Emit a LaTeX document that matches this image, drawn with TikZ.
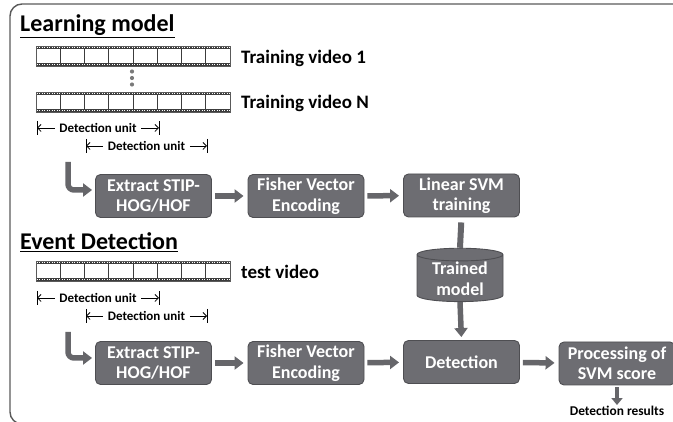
\documentclass[tikz,border=0pt]{standalone}
\usepackage{fontspec}
\setmainfont{Carlito}
\usetikzlibrary{arrows.meta,shapes.geometric}

\definecolor{boxgray}{HTML}{6D6D72}
\definecolor{boxedge}{HTML}{4E4E52}
\definecolor{arrowgray}{HTML}{66666A}
\definecolor{framegray}{HTML}{5A5A5A}
\definecolor{bandgray}{HTML}{3C3C3C}
\definecolor{dotgray}{HTML}{7A7A7A}

\tikzset{
  stage/.style={rectangle, rounded corners=5pt, fill=boxgray, draw=boxedge,
    line width=0.9pt, text=white, font=\bfseries\fontsize{18}{20.5}\selectfont,
    minimum width=116pt, minimum height=43pt, align=center, inner sep=2pt},
  store/.style={cylinder, shape border rotate=90, aspect=0.22, fill=boxgray,
    draw=boxedge, line width=0.9pt, text=white, align=center,
    font=\bfseries\fontsize{18}{20.5}\selectfont,
    minimum width=86pt, minimum height=47pt, inner sep=1pt},
  flow/.style={draw=arrowgray, line width=5.5pt,
    -{Triangle[width=13pt,length=9pt]}},
  flowbar/.style={draw=arrowgray, line width=6pt},
  smallflow/.style={draw=arrowgray, line width=4.5pt,
    -{Triangle[width=11pt,length=7pt]}},
  heading/.style={font=\bfseries\fontsize{24}{27}\selectfont, inner sep=0pt,
    anchor=base west},
  vidlabel/.style={font=\bfseries\fontsize{19}{21}\selectfont, inner sep=0pt,
    anchor=west},
  unitlabel/.style={font=\bfseries\fontsize{13}{15}\selectfont, inner sep=1pt},
  unitarrow/.style={draw=black, line width=0.8pt, shorten <=3.5pt,
    -{Straight Barb[length=3.5pt,width=7pt]}},
  unitbar/.style={draw=black, line width=1pt},
  film/.pic={
    \fill[white] (0,0) rectangle (194,20);
    \fill[bandgray] (0,0) rectangle (194,3.4);
    \fill[bandgray] (0,16.6) rectangle (194,20);
    \draw[white, line width=1.1pt, dash pattern=on 1.2pt off 1.3pt] (0.6,1.7) -- (194,1.7);
    \draw[white, line width=1.1pt, dash pattern=on 1.2pt off 1.3pt] (0.6,18.3) -- (194,18.3);
    \foreach \i in {1,...,7} \draw[bandgray, line width=0.9pt] (\i*24.25,3.4) -- (\i*24.25,16.6);
    \draw[framegray, line width=0.6pt] (0,0) rectangle (194,20);
  }
}

\begin{document}
\begin{tikzpicture}[x=1pt,y=-1pt]
\useasboundingbox (0,0) rectangle (673,422);
\clip (0,0) rectangle (673,422);

% outer frame
\draw[framegray, line width=1.4pt, rounded corners=12pt] (10,4) rectangle (710,424);

% ---------- learning part ----------
\node[heading] (learn) at (20,32) {\underline{Learning model}};

\pic at (36,46) {film};
\pic at (36,92) {film};
\node[vidlabel] (tv1) at (241,58) {Training video 1};
\node[vidlabel] (tvn) at (241,103) {Training video N};

\foreach \yy in {71.5,78,84.5} \fill[dotgray] (132,\yy) circle (2.1pt);

% detection unit spans
\node[unitlabel] (du1) at (98,128) {Detection unit};
\coordinate (du1l) at (37,128);
\coordinate (du1r) at (159,128);
\draw[unitarrow] (du1.west) -- (du1l);
\draw[unitarrow] (du1.east) -- (du1r);
\draw[unitbar] (37,121) -- (37,135);
\draw[unitbar] (159,121) -- (159,135);

\node[unitlabel] (du2) at (146.5,146) {Detection unit};
\coordinate (du2l) at (86,146);
\coordinate (du2r) at (207,146);
\draw[unitarrow] (du2.west) -- (du2l);
\draw[unitarrow] (du2.east) -- (du2r);
\draw[unitbar] (86,139) -- (86,153);
\draw[unitbar] (207,139) -- (207,153);

% processing chain for training
\node[stage] (ext1) at (153.5,196) {Extract STIP-\\HOG/HOF};
\node[stage] (fis1) at (306,196) {Fisher Vector\\Encoding};
\node[stage] (svm) at (461.5,195.5) {Linear SVM\\training};

\coordinate (l1start) at (68,162);
\draw[flow, rounded corners=6pt, shorten >=3pt] (l1start) -- (68,190) -- (ext1.west |- 0,190);
\draw[flow, shorten <=3pt, shorten >=4pt] (ext1) -- (fis1);
\draw[flow, shorten <=3pt, shorten >=4pt] (fis1) -- (svm);

% ---------- detection part ----------
\node[heading] (event) at (20,250) {\underline{Event Detection}};

\pic at (36,261) {film};
\node[vidlabel] (tv) at (241,272) {test video};

\node[unitlabel] (du3) at (98,298) {Detection unit};
\coordinate (du3l) at (37,298);
\coordinate (du3r) at (159,298);
\draw[unitarrow] (du3.west) -- (du3l);
\draw[unitarrow] (du3.east) -- (du3r);
\draw[unitbar] (37,291) -- (37,305);
\draw[unitbar] (159,291) -- (159,305);

\node[unitlabel] (du4) at (146.5,316) {Detection unit};
\coordinate (du4l) at (86,316);
\coordinate (du4r) at (207,316);
\draw[unitarrow] (du4.west) -- (du4l);
\draw[unitarrow] (du4.east) -- (du4r);
\draw[unitbar] (86,309) -- (86,323);
\draw[unitbar] (207,309) -- (207,323);

\node[stage] (ext2) at (153.5,363) {Extract STIP-\\HOG/HOF};
\node[stage] (fis2) at (306,363) {Fisher Vector\\Encoding};
\node[stage] (det) at (461.5,362) {Detection};
\node[stage] (proc) at (617,363.5) {Processing of\\SVM score};
\node[store] (cyl) at (460,279) {Trained\\model};

\coordinate (l2start) at (68,332);
\draw[flow, rounded corners=6pt, shorten >=3pt] (l2start) -- (68,358) -- (ext2.west |- 0,358);
\draw[flow, shorten <=3pt, shorten >=4pt] (ext2) -- (fis2);
\draw[flow, shorten <=3pt, shorten >=4pt] (fis2) -- (det);
\draw[flow, shorten <=3pt, shorten >=4pt] (det) -- (proc);

\draw[flowbar, shorten <=5pt] (svm.south) -- (cyl.north);
\draw[flow, shorten >=3pt] (cyl.south) -- (det.north);

\node[font=\bfseries\fontsize{13.4}{15}\selectfont, inner sep=1pt] (res) at (617,411) {Detection results};
\draw[smallflow, shorten <=2pt, shorten >=0pt] (proc.south) -- (res.north);

\end{tikzpicture}
\end{document}
